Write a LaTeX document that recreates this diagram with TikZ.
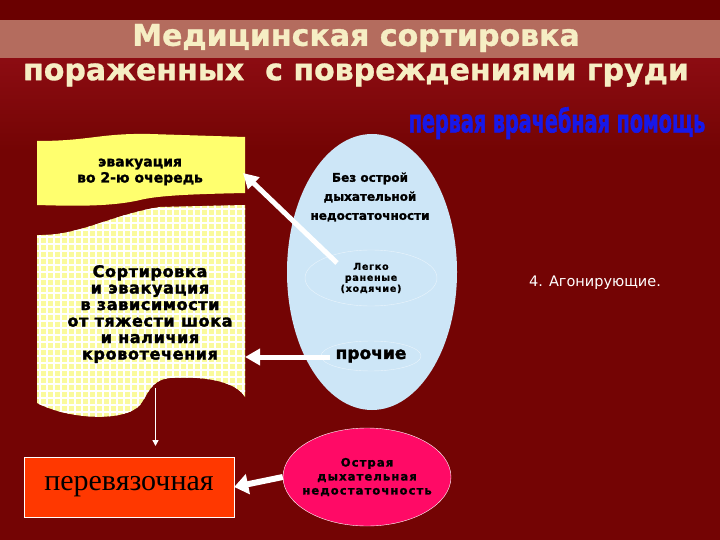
\documentclass[tikz,border=0pt]{standalone}
\usepackage{fontspec}
\setmainfont{DejaVu Sans}
\newfontfamily\serifru{Liberation Serif}
\usepackage{tikz}
\usetikzlibrary{positioning,shapes.geometric,arrows.meta}
\definecolor{bgred}{HTML}{740404}
\definecolor{topred}{HTML}{6A0000}
\definecolor{glowred}{HTML}{8C0C12}
\definecolor{bandred}{HTML}{B46C5E}
\definecolor{cream}{HTML}{F6EEC4}
\definecolor{banneryellow}{HTML}{FFFF6E}
\definecolor{checkyellow}{HTML}{FAFA9C}
\definecolor{skyblue}{HTML}{CDE6F7}
\definecolor{pinkred}{HTML}{FF0A66}
\definecolor{boxorange}{HTML}{FF3800}
\definecolor{helpblue}{HTML}{1818E8}
\newcommand{\blackweight}[1]{\bfseries\addfontfeature{FakeBold=#1}}

\begin{document}
\begin{tikzpicture}[x=1pt,y=-1pt]
\tikzstyle{titletext}=[text=cream, font=\blackweight{1}\fontsize{30}{32}\selectfont]
\tikzstyle{scrolltext}=[align=center, font=\blackweight{1.5}\fontsize{14}{16}\selectfont]
\tikzstyle{oval}=[ellipse, inner sep=0pt, align=center]
\tikzstyle{bigarrow}=[white, line width=5pt, -{Triangle[length=15pt,width=16pt]}]
\tikzstyle{thinarrow}=[white, line width=1.5pt, -{Triangle[length=6pt,width=6pt]}]
  % background and title band
  \fill[bgred] (0,0) rectangle (720,540);
  \useasboundingbox (0,0) rectangle (720,540);
  \shade[top color=glowred, bottom color=bgred] (0,58) rectangle (720,150);
  \fill[topred] (0,0) rectangle (720,20);
  \fill[bandred] (0,20) rectangle (720,58);
  \node[titletext] (title1) at (356,38) {Медицинская сортировка};
  \node[titletext] (title2) at (356,75) {пораженных~~с повреждениями груди};
  \node[text=helpblue, font=\blackweight{2}\fontsize{32}{34}\selectfont, xscale=0.6] (help) at (557,123) {первая врачебная помощь};
  % scroll on the left
  \fill[banneryellow] (37,141) .. controls (90,141) and (100,133) .. (150,134) -- (245,137)
    -- (245,193) .. controls (200,194) and (160,195) .. (140,200) .. controls (110,207) and (70,206) .. (37,205) -- cycle;
  \begin{scope}
    \clip (37,235) .. controls (80,236) and (110,215) .. (160,207) -- (245,205) -- (245,397)
      .. controls (235,380) and (200,376) .. (170,378) .. controls (150,380) and (148,395) .. (140,405)
      .. controls (125,422) and (70,420) .. (37,403) -- cycle;
    \fill[checkyellow] (30,200) rectangle (250,425);
    \foreach \gx in {33,40,...,250} \draw[white, line width=2pt] (\gx,200) -- (\gx,425);
    \foreach \gy in {202,209,...,425} \draw[white, line width=2pt] (30,\gy) -- (250,\gy);
  \end{scope}
  \node[scrolltext] (evac) at (140,172) {эвакуация\\во 2-ю очередь};
  \node[scrolltext, font=\blackweight{2}\fontsize{16}{16.5}\selectfont\addfontfeature{LetterSpace=4}] (sorting) at (150,314)
    {Сортировка\\и эвакуация\\в зависимости\\от тяжести шока\\и наличия\\кровотечения};
  % groups
  \node[oval, fill=skyblue, minimum width=170pt, minimum height=276pt] (group) at (372,272) {};
  \node[scrolltext, font=\blackweight{1.5}\fontsize{12}{19}\selectfont] (noair) at (370,197) {Без острой\\дыхательной\\недостаточности};
  \node[oval, draw=white!60!skyblue, minimum width=132pt, minimum height=56pt,
    font=\blackweight{1}\fontsize{9.5}{11}\selectfont\addfontfeature{LetterSpace=8}] (light) at (371,278) {Легко\\раненые\\(ходячие)};
  \node[oval, draw=white!60!skyblue, minimum width=96pt, minimum height=30pt,
    font=\blackweight{2}\fontsize{17}{18}\selectfont] (other) at (371,356) {прочие};
  \node[oval, fill=pinkred, draw=white, minimum width=168pt, minimum height=98pt, inner xsep=-14pt,
    font=\blackweight{1.5}\fontsize{11.5}{14}\selectfont\addfontfeature{LetterSpace=10}] (acute) at (367,477) {Острая\\дыхательная\\недостаточность};
  \node[rectangle, fill=boxorange, draw=white, minimum width=210pt, minimum height=60pt,
    font=\serifru\fontsize{30}{32}\selectfont] (dressing) at (129,487) {перевязочная};
  \node[text=white, font=\fontsize{14.5}{16}\selectfont] (agonal) at (595,283) {4. Агонирующие.};
  % connectors
  \coordinate (fromnoair) at (337,263);
  \coordinate (evacright) at (243,173);
  \coordinate (fromother) at (330,357);
  \coordinate (sortright) at (245,357);
  \coordinate (sortbottom) at (155.5,388);
  \coordinate (dressingtop) at (155.5,446);
  \draw[bigarrow] (fromnoair) -- (evacright);
  \draw[bigarrow] (fromother) -- (sortright);
  \draw[bigarrow, line width=6pt, -{Triangle[length=14pt,width=20pt]}] (acute.west) -- (dressing.east);
  \draw[thinarrow] (sortbottom) -- (dressingtop);
\end{tikzpicture}
\end{document}
